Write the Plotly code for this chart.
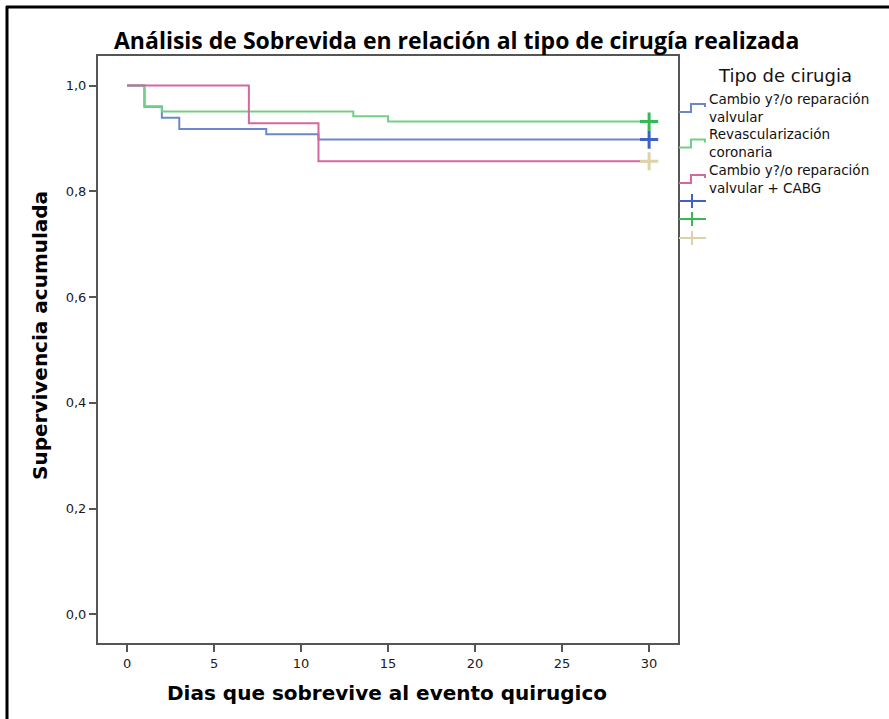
import plotly.graph_objects as go

# Kaplan-Meier survival estimates by type of surgery (days 0-30)
dias_valvular = [0, 1, 2, 3, 8, 11, 30]
surv_valvular = [1.0, 0.960, 0.939, 0.918, 0.908, 0.898, 0.898]

dias_coronaria = [0, 1, 2, 13, 15, 30]
surv_coronaria = [1.0, 0.961, 0.951, 0.942, 0.932, 0.932]

dias_cabg = [0, 7, 11, 30]
surv_cabg = [1.0, 0.929, 0.857, 0.857]

grupos = [
    "Cambio y?/o reparación valvular",
    "Revascularización coronaria",
    "Cambio y?/o reparación valvular + CABG",
]
legend_labels = [
    "Cambio y?/o reparación<br>valvular",
    "Revascularización<br>coronaria",
    "Cambio y?/o reparación<br>valvular + CABG",
]
line_colors = ["#6d87cb", "#72cf86", "#d4679d"]
censor_colors = ["#3f62c2", "#35b955", "#dcd3a6"]

x_ticks = [0, 5, 10, 15, 20, 25, 30]
y_ticks = [0.0, 0.2, 0.4, 0.6, 0.8, 1.0]

W, H = 889, 719
ML, MR, MT, MB = 98, 211, 56, 76
PW, PH = W - ML - MR, H - MT - MB


def px(x):
    return (x - ML) / PW


def py(y):
    return (H - MB - y) / PH


fig = go.Figure()

series = [
    (dias_valvular, surv_valvular),
    (dias_coronaria, surv_coronaria),
    (dias_cabg, surv_cabg),
]
for (t, s), name, col in zip(series, grupos, line_colors):
    fig.add_trace(go.Scatter(
        x=t, y=s, mode="lines", line=dict(color=col, width=2, shape="hv"),
        name=name, showlegend=False, hoverinfo="x+y",
    ))

# censored observations at the end of follow-up
for (t, s), name, col in zip(series, grupos, censor_colors):
    fig.add_trace(go.Scatter(
        x=[t[-1]], y=[s[-1]], mode="markers",
        marker=dict(symbol="cross-thin", size=13, line=dict(color=col, width=3)),
        name=name + " censurado", showlegend=False,
    ))

shapes = []
annotations = []

# outer frame
shapes.append(dict(type="line", xref="paper", yref="paper",
                   x0=px(7), x1=px(7), y0=py(6), y1=py(H + 5),
                   line=dict(color="#000", width=3)))
shapes.append(dict(type="line", xref="paper", yref="paper",
                   x0=px(6), x1=px(W + 5), y0=py(7), y1=py(7),
                   line=dict(color="#000", width=3)))

# legend entries: step icon + two-line label
item_y = [108, 143.5, 179]
for yc, col, label in zip(item_y, line_colors, legend_labels):
    ylo, yhi = yc + 4, yc - 4
    pts = [(679, ylo), (691, ylo), (691, yhi), (705, yhi), (705, yhi + 3)]
    path = "M " + " L ".join(f"{px(a)},{py(b)}" for a, b in pts)
    shapes.append(dict(type="path", xref="paper", yref="paper", path=path,
                       line=dict(color=col, width=2)))
    annotations.append(dict(
        xref="paper", yref="paper", x=px(708), y=py(yc), text=label,
        showarrow=False, xanchor="left", yanchor="middle", align="left",
        borderpad=0,
        font=dict(family="DejaVu Sans", size=13.5, color="#111"),
    ))

# legend: censor crosses
cross_y = [201, 219, 238]
for yc, col in zip(cross_y, censor_colors):
    shapes.append(dict(type="line", xref="paper", yref="paper",
                       x0=px(679), x1=px(706), y0=py(yc), y1=py(yc),
                       line=dict(color=col, width=2)))
    shapes.append(dict(type="line", xref="paper", yref="paper",
                       x0=px(692), x1=px(692), y0=py(yc - 7), y1=py(yc + 7),
                       line=dict(color=col, width=2)))

annotations.append(dict(
    xref="paper", yref="paper", x=px(785), y=py(75), text="Tipo de cirugia",
    showarrow=False, xanchor="center", yanchor="middle",
    font=dict(family="DejaVu Sans", size=18, color="#1a1010"),
))

# titles
annotations.append(dict(
    xref="paper", yref="paper", x=px(456), y=py(40),
    text="<b>Análisis de Sobrevida en relación al tipo de cirugía realizada</b>",
    showarrow=False, xanchor="center", yanchor="middle",
    font=dict(family="Open Sans", size=23, color="#000"),
))
annotations.append(dict(
    xref="paper", yref="paper", x=px(387), y=py(693),
    text="<b>Dias que sobrevive al evento quirugico</b>",
    showarrow=False, xanchor="center", yanchor="middle",
    font=dict(family="DejaVu Sans", size=20, color="#000"),
))
annotations.append(dict(
    xref="paper", yref="paper", x=px(40), y=py(336),
    text="<b>Supervivencia acumulada</b>", textangle=-90,
    showarrow=False, xanchor="center", yanchor="middle",
    font=dict(family="DejaVu Sans", size=20, color="#000"),
))

axis_common = dict(
    showline=True, mirror=True, linecolor="#555", linewidth=2,
    ticks="outside", ticklen=7, tickwidth=2, tickcolor="#555",
    showgrid=False, zeroline=False,
    tickfont=dict(family="DejaVu Sans", size=13, color="#1a1a2a"),
)

fig.update_layout(
    width=W, height=H,
    margin=dict(l=ML, r=MR, t=MT, b=MB),
    paper_bgcolor="white", plot_bgcolor="white",
    separators=", ",
    xaxis=dict(range=[-1.67, 31.66], tickvals=x_ticks, **axis_common),
    yaxis=dict(range=[-0.054, 1.056], tickvals=y_ticks, tickformat=".1f",
               **axis_common),
    shapes=shapes,
    annotations=annotations,
    showlegend=False,
)

fig.write_html("out.html")
